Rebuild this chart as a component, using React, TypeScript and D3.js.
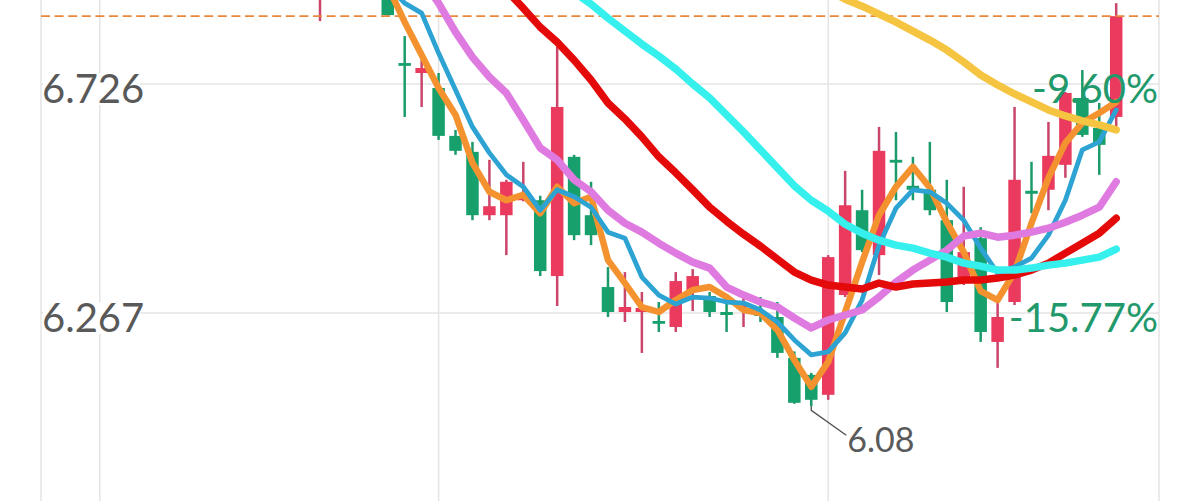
import React from "react";
import * as d3 from "d3";

// ---- Data ----
const opens = [6.91, 6.96, 6.95, 6.97, 6.95, 6.768, 6.748, 6.718, 6.622, 6.590, 6.463, 6.463, 6.493, 6.493, 6.341, 6.580, 6.463, 6.319, 6.269, 6.269, 6.251, 6.239, 6.313, 6.301, 6.269, 6.279, 6.269, 6.259, 6.177, 6.143, 6.103, 6.303, 6.473, 6.383, 6.574, 6.522, 6.514, 6.453, 6.331, 6.417, 6.209, 6.289, 6.512, 6.514, 6.564, 6.698, 6.638, 6.660];
const highs = [6.97, 6.99, 6.98, 7.00, 6.96, 6.822, 6.774, 6.748, 6.634, 6.610, 6.574, 6.534, 6.570, 6.502, 6.800, 6.584, 6.530, 6.359, 6.349, 6.309, 6.289, 6.349, 6.355, 6.309, 6.289, 6.309, 6.299, 6.289, 6.190, 6.147, 6.383, 6.552, 6.514, 6.640, 6.630, 6.580, 6.610, 6.534, 6.520, 6.439, 6.287, 6.680, 6.570, 6.650, 6.710, 6.754, 6.688, 6.888];
const lows = [6.852, 6.92, 6.91, 6.92, 6.863, 6.660, 6.680, 6.614, 6.584, 6.453, 6.453, 6.383, 6.491, 6.341, 6.281, 6.413, 6.403, 6.259, 6.249, 6.187, 6.229, 6.229, 6.271, 6.259, 6.229, 6.239, 6.249, 6.177, 6.085, 6.080, 6.093, 6.299, 6.389, 6.343, 6.493, 6.493, 6.463, 6.269, 6.323, 6.209, 6.157, 6.283, 6.467, 6.473, 6.538, 6.620, 6.544, 6.640];
const closes = [6.95, 6.94, 6.97, 6.95, 6.864, 6.764, 6.758, 6.622, 6.592, 6.463, 6.481, 6.530, 6.502, 6.351, 6.680, 6.423, 6.423, 6.269, 6.279, 6.277, 6.247, 6.331, 6.341, 6.269, 6.263, 6.285, 6.261, 6.187, 6.087, 6.093, 6.379, 6.483, 6.393, 6.592, 6.570, 6.514, 6.473, 6.289, 6.389, 6.229, 6.259, 6.534, 6.506, 6.582, 6.708, 6.624, 6.604, 6.862];

const N = null;
const ma5 = [N, N, N, 6.995, 6.922, 6.850, 6.784, 6.718, 6.664, 6.568, 6.510, 6.493, 6.504, 6.467, 6.520, 6.487, 6.500, 6.373, 6.327, 6.279, 6.269, 6.293, 6.313, 6.319, 6.299, 6.273, 6.267, 6.233, 6.173, 6.119, 6.169, 6.269, 6.369, 6.463, 6.520, 6.560, 6.518, 6.449, 6.389, 6.311, 6.293, 6.349, 6.447, 6.538, 6.608, 6.648, 6.668, 6.690];
const ma10 = [N, N, N, 6.985, 6.924, 6.888, 6.868, 6.788, 6.714, 6.640, 6.588, 6.544, 6.520, 6.473, 6.514, 6.500, 6.479, 6.429, 6.417, 6.339, 6.303, 6.285, 6.299, 6.297, 6.289, 6.287, 6.273, 6.249, 6.213, 6.183, 6.189, 6.227, 6.293, 6.403, 6.477, 6.514, 6.510, 6.487, 6.453, 6.397, 6.347, 6.359, 6.377, 6.423, 6.493, 6.594, 6.610, 6.674];
const ma20 = [N, N, N, N, N, 6.991, 6.938, 6.888, 6.830, 6.780, 6.740, 6.708, 6.654, 6.598, 6.574, 6.534, 6.510, 6.473, 6.447, 6.429, 6.407, 6.387, 6.369, 6.357, 6.319, 6.303, 6.289, 6.279, 6.257, 6.237, 6.253, 6.263, 6.273, 6.299, 6.329, 6.353, 6.373, 6.393, 6.421, 6.427, 6.419, 6.423, 6.429, 6.437, 6.449, 6.463, 6.479, 6.530];
const ma30 = [N, N, N, N, N, N, N, N, N, N, 6.954, 6.914, 6.878, 6.840, 6.810, 6.774, 6.734, 6.688, 6.656, 6.620, 6.580, 6.548, 6.514, 6.479, 6.451, 6.425, 6.401, 6.375, 6.349, 6.333, 6.323, 6.319, 6.315, 6.327, 6.319, 6.325, 6.327, 6.329, 6.333, 6.333, 6.337, 6.343, 6.353, 6.367, 6.387, 6.407, 6.427, 6.457];
const ma60 = [N, N, N, N, N, N, N, N, N, N, N, N, N, N, 6.944, 6.910, 6.886, 6.858, 6.832, 6.806, 6.782, 6.756, 6.726, 6.698, 6.664, 6.630, 6.594, 6.558, 6.522, 6.493, 6.471, 6.445, 6.427, 6.413, 6.403, 6.397, 6.387, 6.379, 6.367, 6.361, 6.353, 6.353, 6.357, 6.363, 6.367, 6.373, 6.379, 6.395];
const ma120 = [N, N, N, N, N, N, N, N, N, N, N, N, N, N, N, N, N, N, N, N, N, N, N, N, N, N, N, N, N, 6.934, 6.914, 6.896, 6.882, 6.866, 6.850, 6.832, 6.814, 6.794, 6.770, 6.744, 6.724, 6.706, 6.690, 6.674, 6.662, 6.652, 6.644, 6.634];

const priceTicks = [6.726, 6.267];
const priceTickLabels = ["6.726", "6.267"];
const pctTickLabels = ["-9.60%", "-15.77%"];
const lastPrice = 6.862;
const minLabel = "6.08";
const minIndex = 29;
const monthBoundaries = [-13, 7, 30];

const W = 1187;
const H = 501;

export default function App() {
  const x = d3.scaleLinear().domain([0, closes.length - 1]).range([320, 1116.2]);
  const y = d3.scaleLinear().domain([6.267, 6.726]).range([313, 84]);
  const left = 41;
  const right = 1159;
  const bodyW = 12.5;

  const RED = "#ea3a5d";
  const RED_WICK = "#c9456a";
  const GREEN = "#17a06c";
  const GREEN_WICK = "#1b9a6a";

  const mkLine = (arr: (number | null)[]) =>
    d3
      .line<number | null>()
      .defined((d) => d !== null)
      .x((_, i) => x(i))
      .y((d) => y(d as number))(arr) || "";

  const maSeries: { data: (number | null)[]; color: string; w: number }[] = [
    { data: ma5, color: "#f4922f", w: 6.5 },
    { data: ma10, color: "#2ca3d2", w: 4.8 },
    { data: ma20, color: "#df7ae0", w: 7.5 },
    { data: ma30, color: "#e40a0a", w: 7.5 },
    { data: ma60, color: "#36f0ee", w: 7.5 },
    { data: ma120, color: "#f5c542", w: 7.5 },
  ];

  const minX = x(minIndex);
  const minY = y(lows[minIndex]);

  return (
    <div style={{ position: "absolute", left: 0, top: 0, width: W, height: H, background: "#fff" }}>
      <svg width={W} height={H} style={{ display: "block", overflow: "hidden" }} fontFamily="Lato, 'Noto Sans', sans-serif">
        <rect x={0} y={0} width={W} height={H} fill="#fff" />
        {/* vertical grid / borders */}
        {[left, right].map((gx, i) => (
          <line key={"b" + i} x1={gx} x2={gx} y1={0} y2={H} stroke="#e4e4e4" strokeWidth={1.5} />
        ))}
        {monthBoundaries.map((m) => (
          <line key={"m" + m} x1={x(m)} x2={x(m)} y1={0} y2={H} stroke="#e4e4e4" strokeWidth={1.5} />
        ))}
        {/* horizontal grid */}
        {priceTicks.map((t) => (
          <line key={"h" + t} x1={left} x2={right} y1={y(t)} y2={y(t)} stroke="#e4e4e4" strokeWidth={1.5} />
        ))}

        {/* candles */}
        {closes.map((c, i) => {
          const o = opens[i];
          const up = c >= o;
          const cx = x(i);
          const top = y(Math.max(o, c));
          const bot = y(Math.min(o, c));
          const h = Math.max(bot - top, 2.8);
          return (
            <g key={"c" + i}>
              <line x1={cx} x2={cx} y1={y(highs[i])} y2={y(lows[i])} stroke={up ? RED_WICK : GREEN_WICK} strokeWidth={2.5} />
              <rect x={cx - bodyW / 2} y={top} width={bodyW} height={h} fill={up ? RED : GREEN} />
            </g>
          );
        })}

        {/* last price dashed line */}
        <line x1={left} x2={right} y1={y(lastPrice)} y2={y(lastPrice)} stroke="#e9883c" strokeWidth={1.6} strokeDasharray="9 4.6" />

        {/* moving averages */}
        {maSeries.map((s, i) => (
          <path key={"ma" + i} d={mkLine(s.data)} fill="none" stroke={s.color} strokeWidth={s.w} strokeLinejoin="round" strokeLinecap="round" />
        ))}

        {/* min marker */}
        <path d={`M${minX},${minY} L${minX},${minY + 4} L${minX + 35},${minY + 29}`} fill="none" stroke="#555" strokeWidth={1.4} />
        <text x={minX + 36} y={minY + 46} fontSize={34} fill="#5a5a5a">{minLabel}</text>

        {/* axis labels */}
        {priceTicks.map((t, i) => (
          <g key={"l" + i}>
            <rect x={43} y={y(t) - 11} width={97} height={32} fill="#fff" />
            <text x={42} y={y(t) + 19} fontSize={40} fill="#595959">{priceTickLabels[i]}</text>
            <text x={1158} y={y(t) + 19} fontSize={40} fill="#22996b" textAnchor="end">{pctTickLabels[i]}</text>
          </g>
        ))}
      </svg>
    </div>
  );
}
